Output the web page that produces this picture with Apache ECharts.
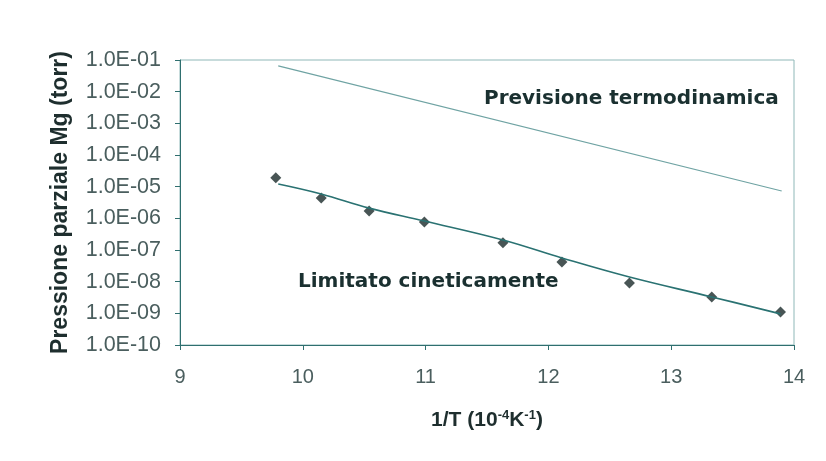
<!DOCTYPE html>
<html>
<head>
<meta charset="utf-8">
<script src="https://cdn.jsdelivr.net/npm/echarts@6/dist/echarts.min.js"></script>
<style>html,body{margin:0;padding:0;background:#fff;}#c{width:826px;height:461px;}</style>
</head>
<body>
<div id="c"></div>
<script>
// measured points (1/T in 10^-4 K^-1, pressure in torr)
const measX = [9.78, 10.15, 10.54, 10.99, 11.63, 12.11, 12.66, 13.33, 13.89];
const measY = [1.9e-5, 4.4e-6, 1.7e-6, 7.7e-7, 1.7e-7, 4.2e-8, 9.1e-9, 3.3e-9, 1.1e-9];
// fitted curve through the measurements
const fitX = [9.80, 10.15, 10.54, 10.99, 11.63, 12.11, 12.66, 13.33, 13.89];
const fitY = [1.22e-5, 5.9e-6, 2.1e-6, 8.2e-7, 2.07e-7, 5.6e-8, 1.4e-8, 3.3e-9, 9.6e-10];
// thermodynamic prediction
const thermoX = [9.80, 13.90];
const thermoY = [6.5e-2, 7.3e-6];
const xTicks = [9, 10, 11, 12, 13, 14];
const yTickLabels = ['1.0E-10','1.0E-09','1.0E-08','1.0E-07','1.0E-06','1.0E-05','1.0E-04','1.0E-03','1.0E-02','1.0E-01'];

const zip = (a, b) => a.map((v, i) => [v, b[i]]);
const chart = echarts.init(document.getElementById('c'));
const axisCol = '#2f6f6f';
const labCol = '#4a5e5e';
chart.setOption({
  backgroundColor: '#fff',
  animation: false,
  grid: { left: 180, top: 60, right: 32, bottom: 116, show: true, borderColor: '#8fb8b8', borderWidth: 1 },
  xAxis: {
    type: 'value', min: xTicks[0], max: xTicks[xTicks.length - 1], interval: 1,
    axisLine: { lineStyle: { color: axisCol, width: 1 } },
    axisTick: { show: true, length: 5, inside: false, lineStyle: { color: axisCol } },
    splitLine: { show: false },
    axisLabel: { color: labCol, fontFamily: 'Liberation Sans', fontSize: 20, margin: 22 },
    name: '{b|1/T (10}{s|-4}{b|K}{s|-1}{b|)}',
    nameLocation: 'middle', nameGap: 64,
    nameTextStyle: {
      rich: {
        b: { fontFamily: 'Liberation Sans', fontWeight: 'bold', fontSize: 21, color: '#1e2e2e' },
        s: { fontFamily: 'Liberation Sans', fontWeight: 'bold', fontSize: 13, color: '#1e2e2e', verticalAlign: 'top', padding: [0, 0, 10, 0] }
      }
    }
  },
  yAxis: {
    type: 'log', logBase: 10, min: 1e-10, max: 1e-1,
    axisLine: { show: true, lineStyle: { color: axisCol, width: 1 } },
    axisTick: { show: true, length: 5, lineStyle: { color: axisCol } },
    minorTick: { show: false },
    splitLine: { show: false },
    axisLabel: {
      color: labCol, fontFamily: 'Liberation Sans', fontSize: 21.5, margin: 19,
      formatter: v => yTickLabels[Math.round(Math.log10(v)) + 10]
    },
    name: 'Pressione parziale Mg (torr)',
    nameLocation: 'middle', nameGap: 108, nameRotate: 90,
    nameTextStyle: { fontFamily: 'Liberation Sans', fontWeight: 'bold', fontSize: 23, color: '#1e2e2e' }
  },
  series: [
    {
      type: 'line', data: zip(thermoX, thermoY), symbol: 'none',
      lineStyle: { color: '#6fa3a3', width: 1.2 }
    },
    {
      type: 'line', data: zip(fitX, fitY), symbol: 'none', smooth: 0.4,
      lineStyle: { color: '#2a7272', width: 1.6 }
    },
    {
      type: 'scatter', data: zip(measX, measY), symbol: 'diamond', symbolSize: 11,
      itemStyle: { color: '#1a2a2a' }
    }
  ],
  graphic: [
    { type: 'text', left: 484, top: 89, style: { text: 'Previsione termodinamica', font: 'bold 20px "DejaVu Sans"', fill: '#1a3030' } },
    { type: 'text', left: 298, top: 272, style: { text: 'Limitato cineticamente', font: 'bold 20px "DejaVu Sans"', fill: '#1a3030' } }
  ]
});
</script>
</body>
</html>
